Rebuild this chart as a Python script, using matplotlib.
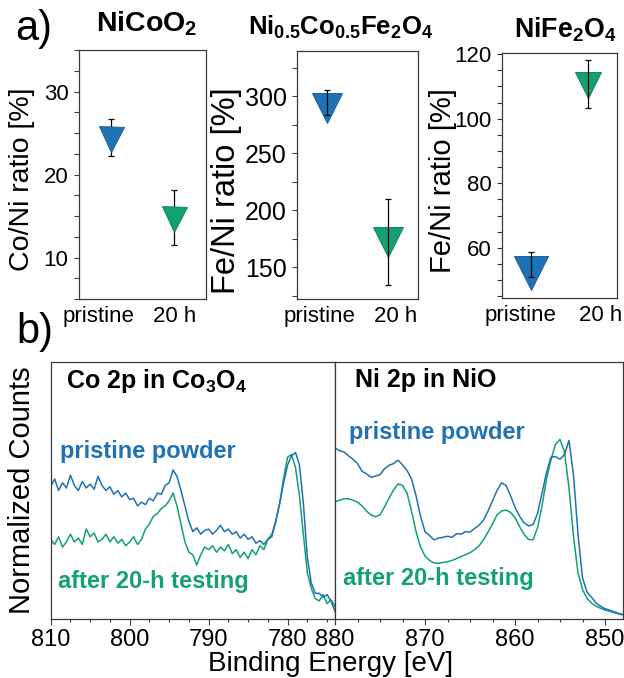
import numpy as np
import matplotlib.pyplot as plt
from matplotlib.ticker import MultipleLocator

plt.rcParams['font.family'] = ['Liberation Sans', 'DejaVu Sans']
plt.rcParams['mathtext.fontset'] = 'custom'
plt.rcParams['mathtext.rm'] = 'Liberation Sans'
plt.rcParams['mathtext.bf'] = 'Liberation Sans:bold'

BLUE = '#1f72b5'
GREEN = '#12a074'
BLUE_EDGE = '#1a619c'
GREEN_EDGE = '#0e8760'
SPINE = '#3a3a3a'

# === PANEL A DATA (ratio from XPS, pristine vs 20 h) ===
conditions = ['pristine', '20 h']
titles = [r'$\mathbf{NiCoO_2}$', r'$\mathbf{Ni_{0.5}Co_{0.5}Fe_2O_4}$', r'$\mathbf{NiFe_2O_4}$']
ylabels = ['Co/Ni ratio [%]', 'Fe/Ni ratio [%]', 'Fe/Ni ratio [%]']

nicoo2_ratio = [24.3, 14.7]
nicoo2_low = [22.2, 11.5]
nicoo2_high = [26.7, 18.1]

nicofe_ratio = [290, 172]
nicofe_low = [284, 134]
nicofe_high = [306, 210]

nife_ratio = [52.3, 110.4]
nife_low = [51.0, 103.3]
nife_high = [58.8, 118.1]

# === PANEL B DATA (normalized XPS counts) ===
co_energy = np.arange(810, 773.75, -0.5)
co_pristine = [0.515, 0.545, 0.500, 0.530, 0.510, 0.560, 0.520, 0.500, 0.535, 0.510,
               0.525, 0.505, 0.555, 0.520, 0.500, 0.515, 0.485, 0.500, 0.475, 0.490,
               0.465, 0.470, 0.440, 0.455, 0.445, 0.470, 0.460, 0.490, 0.485, 0.520,
               0.530, 0.580, 0.555, 0.500, 0.440, 0.380, 0.340, 0.355, 0.330, 0.345,
               0.350, 0.330, 0.345, 0.365, 0.340, 0.350, 0.330, 0.340, 0.315, 0.330,
               0.310, 0.320, 0.295, 0.305, 0.290, 0.310, 0.320, 0.380, 0.450, 0.530,
               0.600, 0.635, 0.648, 0.600, 0.450, 0.240, 0.140, 0.100, 0.100, 0.085,
               0.095, 0.070, 0.030]
co_tested = [0.310, 0.290, 0.320, 0.280, 0.300, 0.330, 0.300, 0.315, 0.290, 0.350,
             0.320, 0.335, 0.300, 0.310, 0.330, 0.300, 0.320, 0.295, 0.310, 0.285,
             0.300, 0.320, 0.290, 0.310, 0.350, 0.370, 0.400, 0.410, 0.430, 0.440,
             0.460, 0.490, 0.440, 0.370, 0.300, 0.260, 0.250, 0.210, 0.250, 0.280,
             0.270, 0.285, 0.260, 0.280, 0.265, 0.290, 0.255, 0.270, 0.240, 0.260,
             0.235, 0.270, 0.250, 0.285, 0.270, 0.310, 0.330, 0.380, 0.450, 0.550,
             0.630, 0.640, 0.590, 0.480, 0.330, 0.180, 0.120, 0.080, 0.070, 0.095,
             0.060, 0.075, 0.050]

ni_energy = np.arange(880, 847.75, -0.5)
ni_pristine = [0.665, 0.655, 0.650, 0.635, 0.622, 0.605, 0.575, 0.565, 0.552, 0.556,
               0.562, 0.585, 0.598, 0.605, 0.618, 0.600, 0.578, 0.545, 0.480, 0.400,
               0.340, 0.325, 0.308, 0.315, 0.318, 0.322, 0.318, 0.332, 0.330, 0.340,
               0.338, 0.352, 0.365, 0.385, 0.420, 0.460, 0.500, 0.530, 0.520, 0.480,
               0.435, 0.400, 0.375, 0.362, 0.368, 0.410, 0.490, 0.570, 0.630, 0.632,
               0.622, 0.640, 0.695, 0.560, 0.330, 0.160, 0.105, 0.085, 0.062, 0.050,
               0.040, 0.035, 0.028, 0.022, 0.018]
ni_tested = [0.457, 0.462, 0.468, 0.468, 0.462, 0.455, 0.440, 0.420, 0.405, 0.398,
             0.405, 0.437, 0.470, 0.502, 0.526, 0.520, 0.490, 0.420, 0.340, 0.280,
             0.245, 0.228, 0.218, 0.217, 0.220, 0.223, 0.228, 0.235, 0.243, 0.250,
             0.258, 0.270, 0.285, 0.308, 0.338, 0.370, 0.405, 0.420, 0.424, 0.415,
             0.395, 0.360, 0.330, 0.310, 0.308, 0.355, 0.440, 0.545, 0.620, 0.680,
             0.699, 0.650, 0.510, 0.320, 0.180, 0.115, 0.080, 0.062, 0.050, 0.042,
             0.035, 0.030, 0.025, 0.020, 0.016]

fig = plt.figure(figsize=(6.24, 6.78), dpi=100)

# === PANEL A ===
a_rects = [[0.1266, 0.559, 0.2035, 0.367],
           [0.476, 0.559, 0.194, 0.366],
           [0.8045, 0.5605, 0.184, 0.361]]
a_ylims = [(5, 35), (122, 340), (44.5, 120.3)]
a_major = [10, 50, 20]
a_minor = [2.5, 25, 5]
a_ticksize = [16, 18, 16]
a_labelsize = [20.5, 23.5, 21]
a_titlesize = [20.5, 18.5, 19.3]
a_msize = [[18, 18], [22, 22], [24, 19]]
a_err_top = [False, True, True]
a_label_pos = [(22, 179), (226, 191), (443, 181)]
a_title_pos = [(147, 32), (341, 35), (565, 37)]
a_tick_x = [[0.815, 2.0], [0.864, 2.136], [0.83, 2.22]]
a_data = [(nicoo2_ratio, nicoo2_low, nicoo2_high),
          (nicofe_ratio, nicofe_low, nicofe_high),
          (nife_ratio, nife_low, nife_high)]

xpos = [1, 2]
for i in range(3):
    ax = fig.add_axes(a_rects[i])
    vals, lo, hi = a_data[i]
    err = [[v - l for v, l in zip(vals, lo)], [h - v for v, h in zip(vals, hi)]]
    for x, v, c, ec, ms in zip(xpos, vals, [BLUE, GREEN], [BLUE_EDGE, GREEN_EDGE], a_msize[i]):
        ax.plot(x, v, marker='v', ms=ms, color=c, mec=ec, mew=0.7, ls='none', zorder=3)
    ax.errorbar(xpos, vals, yerr=err, fmt='none', ecolor='k', elinewidth=0.9,
                capsize=2.5, capthick=0.9, zorder=4 if a_err_top[i] else 2)
    ax.set_xlim(0.5, 2.5)
    ax.set_ylim(*a_ylims[i])
    ax.set_xticks(a_tick_x[i])
    ax.set_xticklabels(conditions)
    ax.yaxis.set_major_locator(MultipleLocator(a_major[i]))
    ax.yaxis.set_minor_locator(MultipleLocator(a_minor[i]))
    ax.tick_params(axis='x', length=0, pad=5, labelsize=16)
    ax.tick_params(axis='y', which='both', direction='out', length=3.5, width=0.8,
                   color=SPINE, pad=4, labelsize=a_ticksize[i])
    for sp in ax.spines.values():
        sp.set_color(SPINE)
        sp.set_linewidth(0.9)
    lx, ly = a_label_pos[i]
    fig.text(lx / 624, 1 - ly / 678, ylabels[i], rotation=90, ha='center', va='center',
             fontsize=a_labelsize[i])
    tx, ty = a_title_pos[i]
    fig.text(tx / 624, 1 - ty / 678, titles[i], ha='center', va='baseline',
             fontsize=a_titlesize[i])

fig.text(0.024, 0.957, 'a)', ha='left', va='center', fontsize=30)
fig.text(0.026, 0.511, 'b)', ha='left', va='center', fontsize=30)

# === PANEL B ===
b_rects = [[0.0812, 0.087, 0.4556, 0.379],
           [0.5369, 0.087, 0.4615, 0.379]]
b_xlims = [(810, 774), (880, 848)]
b_energy = [co_energy, ni_energy]
b_pristine = [co_pristine, ni_pristine]
b_tested = [co_tested, ni_tested]
b_titles = [r'Co 2p in Co$_\mathbf{3}$O$_\mathbf{4}$', 'Ni 2p in NiO']
b_title_pos = [(0.054, 0.899), (0.069, 0.904)]
b_prist_pos = [(0.033, 0.626), (0.049, 0.700)]
b_test_pos = [(0.026, 0.121), (0.028, 0.132)]

for i in range(2):
    ax = fig.add_axes(b_rects[i])
    ax.plot(b_energy[i], b_tested[i], color=GREEN, lw=1.1)
    ax.plot(b_energy[i], b_pristine[i], color=BLUE, lw=1.1)
    ax.set_xlim(*b_xlims[i])
    ax.set_ylim(0, 1)
    ax.set_yticks([])
    ax.xaxis.set_major_locator(MultipleLocator(10))
    ax.xaxis.set_minor_locator(MultipleLocator(2.5))
    ax.tick_params(axis='x', which='major', direction='out', length=4, width=0.8,
                   color=SPINE, pad=3, labelsize=17)
    ax.tick_params(axis='x', which='minor', direction='out', length=2.5, width=0.8,
                   color=SPINE)
    for sp in ax.spines.values():
        sp.set_color(SPINE)
        sp.set_linewidth(0.9)
    ax.text(*b_title_pos[i], b_titles[i], transform=ax.transAxes, ha='left',
            va='baseline', fontsize=18, fontweight='bold')
    ax.text(*b_prist_pos[i], 'pristine powder', transform=ax.transAxes, ha='left',
            va='baseline', fontsize=17, fontweight='bold', color=BLUE)
    ax.text(*b_test_pos[i], 'after 20-h testing', transform=ax.transAxes, ha='left',
            va='baseline', fontsize=17, fontweight='bold', color=GREEN)

fig.text(0.035, 0.2766, 'Normalized Counts', rotation=90, ha='center', va='center', fontsize=21)
fig.text(0.529, 0.010, 'Binding Energy [eV]', ha='center', va='baseline', fontsize=20)

fig.savefig('out.png', dpi=100)
